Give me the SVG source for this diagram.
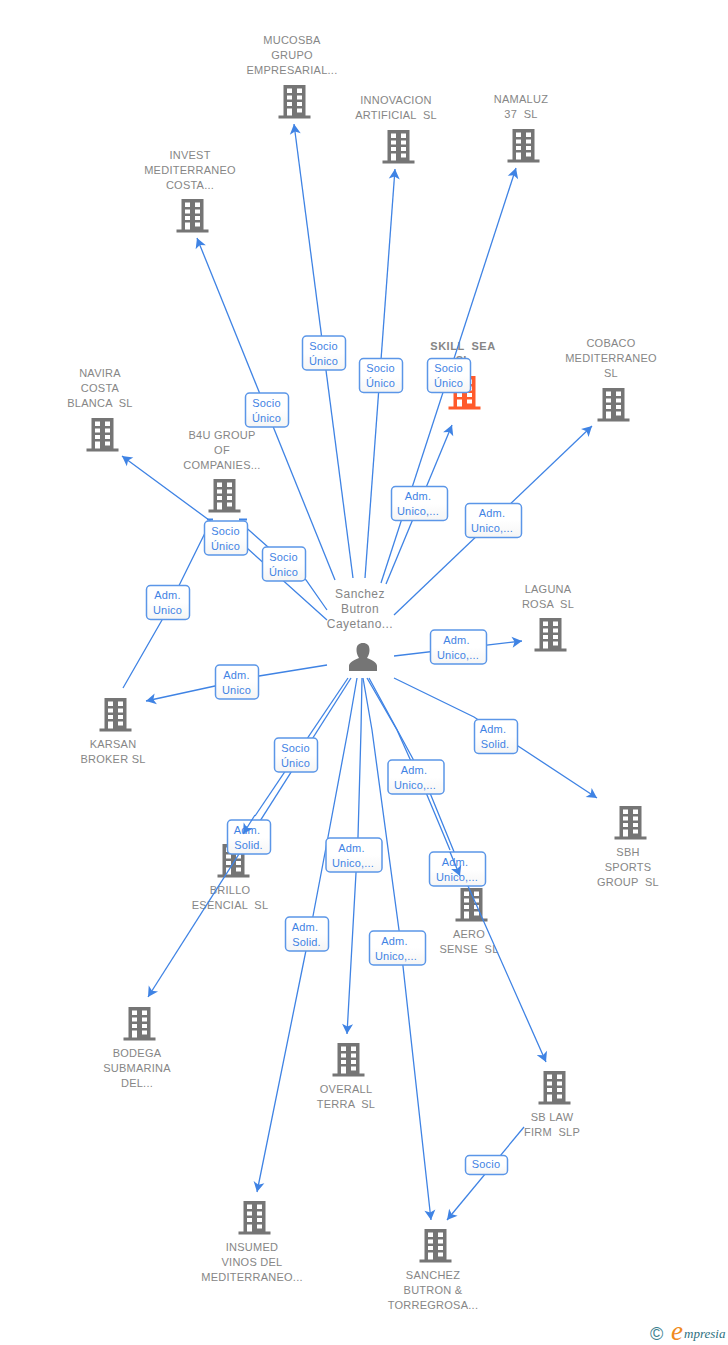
<svg xmlns="http://www.w3.org/2000/svg" width="728" height="1345" viewBox="0 0 728 1345">
<style>
text{font-family:"Liberation Sans",Arial,sans-serif;white-space:pre}
.n text,.n{font-size:11px;fill:#868686;text-anchor:middle;letter-spacing:.25px}
.c path{fill:none;stroke:#3f83e4;stroke-width:1.3;marker-end:url(#a)}
.c path.p{marker:none}
.l rect{fill:url(#g);stroke:#5b96e8;stroke-width:1.5}
.l text{font-size:11px;fill:#3f83e4;text-anchor:middle;letter-spacing:.2px}
</style>
<defs>
<linearGradient id="g" x1="0" y1="0" x2="0" y2="1"><stop offset="0" stop-color="#fff"/><stop offset=".5" stop-color="#fff"/><stop offset="1" stop-color="#f5f5f5"/></linearGradient>
<marker id="a" markerUnits="userSpaceOnUse" markerWidth="12" markerHeight="12" viewBox="-10 -6 11 12" refX="0" refY="0" orient="auto"><path d="M0,0L-10,-5.5L-7.5,0L-10,5.5Z" fill="#3f83e4"/></marker>
<g id="b">
<path d="M5.500,0H27.500V30.500H32.500V33.500H.5V30.500H5.500Z"/>
<g fill="#fff"><rect x="9" y="3.500" width="5" height="4.500"/><rect x="19" y="3.500" width="5" height="4.500"/><rect x="9" y="10.500" width="5" height="4"/><rect x="19" y="10.500" width="5" height="4"/><rect x="9" y="17" width="5" height="4"/><rect x="19" y="17" width="5" height="4"/><rect x="9" y="23.500" width="5" height="7"/><rect x="19" y="23.500" width="5" height="4"/></g>
</g>
</defs>
<rect width="728" height="1345" fill="#fff"/>
<g id="n-mucosba" class="n"><text x="292" y="44">MUCOSBA</text><text x="292" y="59">GRUPO</text><text x="292" y="74">EMPRESARIAL...</text><use href="#b" x="278" y="85" fill="#757575"/></g>
<g id="n-innovacion" class="n"><text x="396" y="104">INNOVACION</text><text x="396" y="119">ARTIFICIAL  SL</text><use href="#b" x="382" y="130" fill="#757575"/></g>
<g id="n-namaluz" class="n"><text x="521" y="103">NAMALUZ</text><text x="521" y="118">37  SL</text><use href="#b" x="507" y="129" fill="#757575"/></g>
<g id="n-invest" class="n"><text x="190" y="159">INVEST</text><text x="190" y="174">MEDITERRANEO</text><text x="190" y="189">COSTA...</text><use href="#b" x="176" y="199" fill="#757575"/></g>
<g id="n-skill" class="n"><text x="463" y="350" font-weight="bold" style="letter-spacing:.5px">SKILL  SEA</text><text x="463" y="364" font-weight="bold">SL</text><use href="#b" x="448" y="376" fill="#ff5a2b"/></g>
<g id="n-cobaco" class="n"><text x="611" y="347">COBACO</text><text x="611" y="362">MEDITERRANEO</text><text x="611" y="377">SL</text><use href="#b" x="597" y="388" fill="#757575"/></g>
<g id="n-navira" class="n"><text x="100" y="377">NAVIRA</text><text x="100" y="392">COSTA</text><text x="100" y="407">BLANCA  SL</text><use href="#b" x="86" y="418" fill="#757575"/></g>
<g id="n-b4u" class="n"><text x="222" y="439">B4U GROUP</text><text x="222" y="454">OF</text><text x="222" y="469">COMPANIES...</text><use href="#b" x="208" y="479" fill="#757575"/></g>
<g id="n-laguna" class="n"><text x="548" y="593">LAGUNA</text><text x="548" y="608">ROSA  SL</text><use href="#b" x="534" y="618" fill="#757575"/></g>
<g id="n-karsan" class="n"><text x="113" y="748">KARSAN</text><text x="113" y="763">BROKER SL</text><use href="#b" x="99" y="698" fill="#757575"/></g>
<g id="n-sbh" class="n"><text x="628" y="856">SBH</text><text x="628" y="871">SPORTS</text><text x="628" y="886">GROUP  SL</text><use href="#b" x="614" y="806" fill="#757575"/></g>
<g id="n-brillo" class="n"><text x="230" y="894">BRILLO</text><text x="230" y="909">ESENCIAL  SL</text><use href="#b" x="217" y="844" fill="#757575"/></g>
<g id="n-aero" class="n"><text x="469" y="938">AERO</text><text x="469" y="953">SENSE  SL</text><use href="#b" x="455" y="888" fill="#757575"/></g>
<g id="n-bodega" class="n"><text x="137" y="1057">BODEGA</text><text x="137" y="1072">SUBMARINA</text><text x="137" y="1087">DEL...</text><use href="#b" x="123" y="1007" fill="#757575"/></g>
<g id="n-overall" class="n"><text x="346" y="1093">OVERALL</text><text x="346" y="1108">TERRA  SL</text><use href="#b" x="332" y="1043" fill="#757575"/></g>
<g id="n-sblaw" class="n"><text x="552" y="1121">SB LAW</text><text x="552" y="1136">FIRM  SLP</text><use href="#b" x="538" y="1071" fill="#757575"/></g>
<g id="n-insumed" class="n"><text x="252" y="1251">INSUMED</text><text x="252" y="1266">VINOS DEL</text><text x="252" y="1281">MEDITERRANEO...</text><use href="#b" x="238" y="1201" fill="#757575"/></g>
<g id="n-sanchez" class="n"><text x="433" y="1279">SANCHEZ</text><text x="433" y="1294">BUTRON &amp;</text><text x="433" y="1309">TORREGROSA...</text><use href="#b" x="419" y="1229" fill="#757575"/></g>
<g id="n-person" class="n"><text x="360" y="598" style="font-size:12px;letter-spacing:.45px">Sanchez</text><text x="360" y="613" style="font-size:12px;letter-spacing:.45px">Butron</text><text x="360" y="628" style="font-size:12px;letter-spacing:.45px">Cayetano...</text>
<path d="M349,671V666C349,663 352,661 359,658C357,655 356.500,652 356.500,650C356.500,645 359,643 363,643C367,643 369.500,645 369.500,650C369.500,652 369,655 367,658C374,661 377,663 377,666V671Z" fill="#757575"/></g>
<g id="connectors" class="c">
<path d="M353,578L294,124"/>
<path d="M365,578L395,169"/>
<path d="M381,583L516,168"/>
<path d="M386,584L452,425"/>
<path d="M335,580L197,238"/>
<path d="M394,615L592,426"/>
<path d="M327,620L247,548L122,456"/>
<path class="p" d="M327,610L306,580L268,547L241,523"/>
<path class="p" d="M123,688L162,620L204,535L210,523"/>
<path class="p" d="M207,519.500H213M239,519.500H247" style="stroke-width:2"/>
<path d="M327,665L259,676L215,686L146,701"/>
<path d="M394,656L522,641"/>
<path d="M394,678L474,717L518,746L597,798"/>
<path d="M351,678L148,997"/>
<path d="M362,678L361,730L358,837L347,1034"/>
<path d="M357,678L348,730L328,837L313,916L302,970L257,1192"/>
<path d="M363,678L372,730L399,930L431,1220"/>
<path d="M369,678L413,759L430,793L468,886L546,1062"/>
<path d="M524,1127L447,1220"/>
<path class="p" d="M348,678L255,816"/>
<path class="p" d="M367,678L397,730L410,759L427,795L450,850"/>
</g>
<g id="labels" class="l">
<g><rect x="302.500" y="336" width="43" height="34" rx="4"/><text x="323.500" y="350">Socio</text><text x="323.500" y="365">Único</text></g>
<g><rect x="359.500" y="358.500" width="43" height="34" rx="4"/><text x="380.500" y="372">Socio</text><text x="380.500" y="387">Único</text></g>
<g><rect x="427.500" y="358.500" width="43" height="34" rx="4"/><text x="448.500" y="372">Socio</text><text x="448.500" y="387">Único</text></g>
<g><rect x="391.500" y="486.500" width="56" height="34" rx="4"/><text x="418" y="500">Adm.</text><text x="418" y="515">Unico,...</text></g>
<g><rect x="465.500" y="503.500" width="56" height="34" rx="4"/><text x="492" y="517">Adm.</text><text x="492" y="532">Unico,...</text></g>
<g><rect x="245.500" y="393" width="43" height="34" rx="4"/><text x="266.500" y="407">Socio</text><text x="266.500" y="422">Único</text></g>
<g><rect x="204.500" y="521" width="43" height="34" rx="4"/><text x="225.500" y="535">Socio</text><text x="225.500" y="550">Único</text></g>
<g><rect x="262.500" y="547" width="43" height="34" rx="4"/><text x="283.500" y="561">Socio</text><text x="283.500" y="576">Único</text></g>
<g><rect x="146.500" y="585.500" width="43" height="34" rx="4"/><text x="167.500" y="599">Adm.</text><text x="167.500" y="614">Unico</text></g>
<g><rect x="215.500" y="665" width="43" height="34" rx="4"/><text x="236.500" y="679">Adm.</text><text x="236.500" y="694">Unico</text></g>
<g><rect x="430.500" y="630" width="56" height="34" rx="4"/><text x="456.500" y="644">Adm.</text><text x="458" y="659">Unico,...</text></g>
<g><rect x="474.500" y="719.500" width="43" height="34" rx="4"/><text x="493" y="733">Adm.</text><text x="495" y="748">Solid.</text></g>
<g><rect x="274.500" y="738" width="43" height="34" rx="4"/><text x="295.500" y="752">Socio</text><text x="295.500" y="767">Único</text></g>
<g><rect x="227.500" y="820" width="43" height="34" rx="4"/><text x="247" y="834">Adm.</text><text x="248.500" y="849">Solid.</text></g>
<g><rect x="388" y="760" width="56" height="34" rx="4"/><text x="414" y="774">Adm.</text><text x="415" y="789">Unico,...</text></g>
<g><rect x="326" y="838" width="56" height="34" rx="4"/><text x="351.500" y="852">Adm.</text><text x="353" y="867">Unico,...</text></g>
<g><rect x="429.500" y="852" width="56" height="34" rx="4"/><text x="455" y="866">Adm.</text><text x="457" y="881">Unico,...</text></g>
<g><rect x="285.500" y="917" width="43" height="34" rx="4"/><text x="305" y="931">Adm.</text><text x="306.500" y="946">Solid.</text></g>
<g><rect x="369.500" y="931" width="56" height="34" rx="4"/><text x="394.500" y="945">Adm.</text><text x="396" y="960">Unico,...</text></g>
<g><rect x="465.500" y="1155.500" width="42" height="19" rx="4"/><text x="486" y="1168">Socio</text></g>
</g>
<g id="connector-ends" class="c">
<path d="M255,815L243,834"/>
<path d="M450,852L460,876"/>
</g>
<g id="logo">
<text x="650" y="1340" style="font-size:18px;fill:#3d7f8f">©</text>
<text x="671" y="1340" style="font-family:'Liberation Serif',serif;font-style:italic;font-size:27px;fill:#f08a1d">e</text>
<text x="684" y="1338" style="font-family:'Liberation Serif',serif;font-style:italic;font-size:13px;fill:#2e6f80">mpresia</text>
</g>
</svg>
